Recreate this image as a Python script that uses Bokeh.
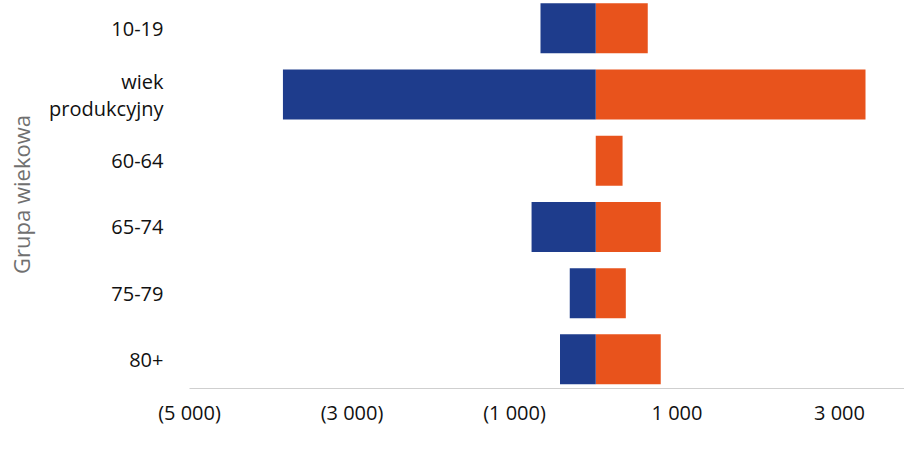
from bokeh.plotting import figure
from bokeh.models import ColumnDataSource, Range1d, FixedTicker, Legend, LegendItem
from bokeh.embed import file_html
from bokeh.resources import INLINE

categories = ["10-19", "wiek\nprodukcyjny", "60-64", "65-74", "75-79", "80+"]
kobieta = [640, 3320, 330, 800, 370, 800]
mezczyzna = [680, 3850, 0, 790, 320, 440]
x_ticks = [-5000, -3000, -1000, 1000, 3000]
x_tick_labels = ["(5 000)", "(3 000)", "(1 000)", "1 000", "3 000"]

pos = list(range(len(categories)))
src = ColumnDataSource(dict(
    y=pos,
    kob=kobieta,
    mez_neg=[-v for v in mezczyzna],
    zero=[0] * len(pos),
))

FONT = "Open Sans"
ORANGE = "#E8531C"
BLUE = "#1E3C8C"

p = figure(frame_width=715, frame_height=388,
           x_range=Range1d(-5000, 3800), y_range=Range1d(5.44, -0.42),
           output_backend="svg", toolbar_location=None,
           min_border_left=189, min_border_right=0, min_border_top=0,
           min_border_bottom=82)

r_k = p.hbar(y="y", left="zero", right="kob", height=0.755, source=src,
             fill_color=ORANGE, line_color=None)
r_m = p.hbar(y="y", left="mez_neg", right="zero", height=0.755, source=src,
             fill_color=BLUE, line_color=None)

p.xgrid.visible = False
p.ygrid.visible = False
p.outline_line_color = None

xa = p.xaxis[0]
xa.ticker = FixedTicker(ticks=x_ticks)
xa.major_label_overrides = {t: l for t, l in zip(x_ticks, x_tick_labels)}
xa.major_tick_line_color = None
xa.minor_tick_line_color = None
xa.axis_line_color = "#cfcfcf"
xa.major_label_text_font = FONT
xa.major_label_text_font_size = "20px"
xa.major_label_text_color = "#111111"
xa.major_label_standoff = 4

ya = p.yaxis[0]
ya.ticker = FixedTicker(ticks=pos)
ya.major_label_overrides = {i: c for i, c in enumerate(categories)}
ya.major_tick_line_color = None
ya.minor_tick_line_color = None
ya.axis_line_color = None
ya.major_label_text_font = FONT
ya.major_label_text_font_size = "20px"
ya.major_label_text_line_height = 1.0
ya.major_label_text_color = "#111111"
ya.major_label_standoff = 20
ya.axis_label = "Grupa wiekowa"
ya.axis_label_text_font = FONT
ya.axis_label_text_font_style = "normal"
ya.axis_label_text_font_size = "22px"
ya.axis_label_text_color = "#707070"
ya.axis_label_standoff = 10

legend = Legend(items=[LegendItem(label="kobieta", renderers=[r_k]),
                       LegendItem(label="mężczyzna", renderers=[r_m])],
                orientation="horizontal", location=(139, -80),
                label_text_font=FONT, label_text_font_size="20px",
                label_text_color="#111111", label_height=20,
                glyph_width=16, glyph_height=20, spacing=40,
                border_line_color=None, background_fill_alpha=0,
                padding=2, margin=0, label_standoff=5)
p.add_layout(legend, "center")

open("out.html", "w").write(file_html(p, INLINE))
